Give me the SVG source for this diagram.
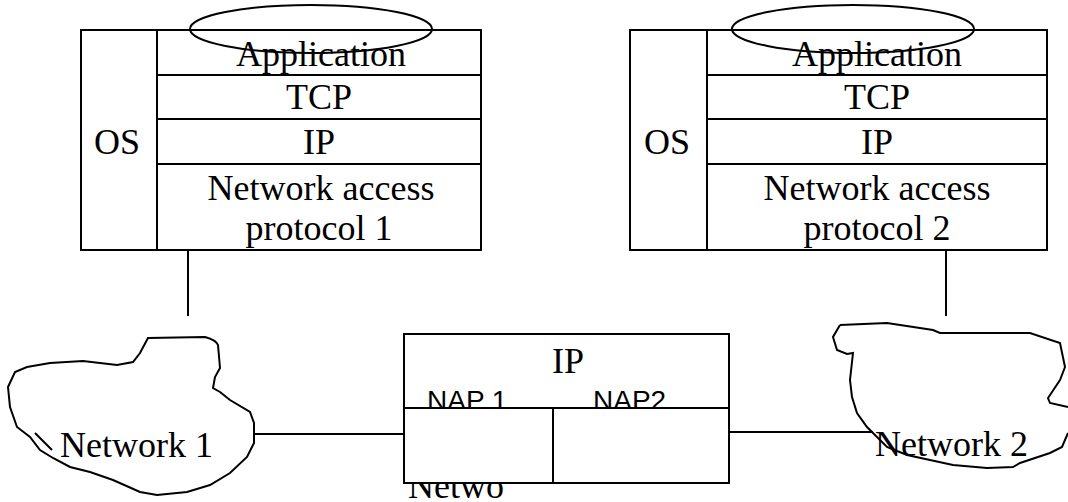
<svg xmlns="http://www.w3.org/2000/svg" width="1068" height="502" viewBox="0 0 1068 502">
<style>
.ln{fill:none;stroke:#000;stroke-width:2}
.box{fill:#fff;stroke:#000;stroke-width:2}
.t{font-family:"Liberation Serif","Times New Roman",serif;font-size:36px;fill:#000}
.s{font-family:"Liberation Sans",Arial,sans-serif;font-size:28px;fill:#000}
.c{text-anchor:middle}
</style>
<rect width="1068" height="502" fill="#fff"/>
<g id="connectors">
<line class="ln" x1="188" y1="236" x2="188" y2="316"/>
<line class="ln" x1="946" y1="240" x2="946" y2="316"/>
<line class="ln" x1="254" y1="434" x2="404" y2="434"/>
<line class="ln" x1="729" y1="432" x2="873" y2="432"/>
</g>
<g id="host1">
<rect class="box" x="81" y="30" width="400" height="220"/>
<line class="ln" x1="157" y1="30" x2="157" y2="250"/>
<line class="ln" x1="157" y1="75" x2="481" y2="75"/>
<line class="ln" x1="157" y1="119" x2="481" y2="119"/>
<line class="ln" x1="157" y1="164" x2="481" y2="164"/>
<text class="t c" x="117" y="154">OS</text>
<text class="t c" x="321" y="66">Application</text>
<text class="t c" x="319" y="109">TCP</text>
<text class="t c" x="319" y="154">IP</text>
<text class="t c" x="321" y="200">Network access</text>
<text class="t c" x="319" y="240">protocol 1</text>
<ellipse class="ln" cx="311" cy="29" rx="121" ry="24"/>
</g>
<g id="host2">
<rect class="box" x="630" y="30" width="417" height="220"/>
<line class="ln" x1="707" y1="30" x2="707" y2="250"/>
<line class="ln" x1="707" y1="75" x2="1047" y2="75"/>
<line class="ln" x1="707" y1="119" x2="1047" y2="119"/>
<line class="ln" x1="707" y1="164" x2="1047" y2="164"/>
<text class="t c" x="667" y="154">OS</text>
<text class="t c" x="877" y="66">Application</text>
<text class="t c" x="877" y="109">TCP</text>
<text class="t c" x="877" y="154">IP</text>
<text class="t c" x="877" y="200">Network access</text>
<text class="t c" x="877" y="240">protocol 2</text>
<ellipse class="ln" cx="853" cy="29" rx="121" ry="24"/>
</g>
<g id="network1">
<path class="ln" d="M148,338 L205,337 Q216,340 218,345 L220,368 L215,377 L213,388 L220,392 L230,400 L250,412 L254,423 L254,443 L247,457 L230,473 L210,485 L187,492 L157,495 L140,492 L113,480 L90,472 L70,467 L53,458 L40,450 L30,437 L17,427 L10,407 L8,387 L15,372 L27,367 L50,363 L83,361 L117,365 L133,362 L140,353 Z M35,433 L52,450"/>
<text class="t" x="60" y="457">Network 1</text>
</g>
<g id="network2">
<path class="ln" d="M840,325 L887,323 L933,330 L940,333 L1030,333 L1060,343 L1065,367 L1060,380 L1048,398 L1050,403 L1068,407 M1068,433 L1062,447 L1050,453 L1020,463 L1013,467 L987,468 L953,465 L907,455 L887,447 L873,433 L867,427 L857,413 L852,397 L850,380 L853,353 L847,354 L837,350 L833,337 L840,325"/>
<text class="t" x="875" y="456">Network 2</text>
</g>
<g id="router">
<text class="t" x="408" y="498">Netwo</text>
<rect class="box" x="404" y="334" width="325" height="149"/>
<text class="t c" x="568" y="373">IP</text>
<text class="s" x="427" y="410">NAP 1</text>
<text class="s" x="593" y="410">NAP2</text>
<rect class="box" x="404" y="408" width="149" height="75"/>
<rect class="box" x="553" y="408" width="176" height="75"/>
</g>
</svg>
